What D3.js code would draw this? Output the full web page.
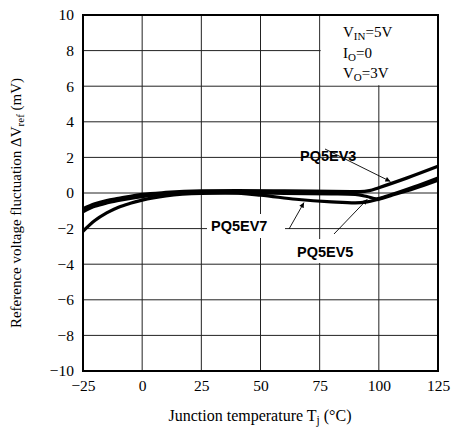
<!DOCTYPE html>
<html><head><meta charset="utf-8">
<script src="https://cdn.jsdelivr.net/npm/d3@7"></script>
<style>body{margin:0;background:#fff}svg{display:block}</style>
</head><body><svg id="c" width="451" height="429"></svg>
<script>
const xTicks = [-25, 0, 25, 50, 75, 100, 125];
const yTicks = [-10, -8, -6, -4, -2, 0, 2, 4, 6, 8, 10];
const seriesNames = ["PQ5EV3", "PQ5EV5", "PQ5EV7"];
const tempEV3 = [-25, -20, -15, -10, -5, 0, 10, 25, 40, 60, 80, 92, 96, 100, 112, 125];
const valEV3  = [-0.88, -0.6, -0.42, -0.3, -0.18, -0.08, 0.03, 0.12, 0.14, 0.12, 0.09, 0.08, 0.13, 0.3, 0.85, 1.5];
const tempEV5 = [-25, -20, -15, -10, -5, 0, 10, 25, 40, 60, 80, 90, 95, 99, 105, 115, 125];
const valEV5  = [-2.15, -1.55, -1.12, -0.8, -0.58, -0.4, -0.16, -0.02, 0.0, -0.02, -0.05, -0.08, -0.2, -0.33, -0.1, 0.35, 0.85];
const tempEV7 = [-25, -20, -15, -10, -5, 0, 10, 25, 35, 50, 65, 80, 90, 95, 99, 105, 115, 125];
const valEV7  = [-1.05, -0.75, -0.56, -0.42, -0.3, -0.2, -0.07, 0.03, 0.02, -0.12, -0.35, -0.5, -0.56, -0.5, -0.38, -0.15, 0.25, 0.72];

const svg = d3.select("#c");
const L = 83, R = 438, T = 15, B = 371;
const x = d3.scaleLinear().domain([-25, 125]).range([L, R]);
const y = d3.scaleLinear().domain([-10, 10]).range([B, T]);
const serif = "'Liberation Serif','Times New Roman',serif";
const sans = "'Liberation Sans',Arial,sans-serif";

// grid
svg.append("g").selectAll("line").data(xTicks.slice(1, -1)).join("line")
  .attr("x1", d => x(d)).attr("x2", d => x(d)).attr("y1", T).attr("y2", B)
  .attr("stroke", "#222").attr("stroke-width", 1);
svg.append("g").selectAll("line").data(yTicks.slice(1, -1)).join("line")
  .attr("x1", L).attr("x2", R).attr("y1", d => y(d)).attr("y2", d => y(d))
  .attr("stroke", "#222").attr("stroke-width", 1);

// legend box background
svg.append("rect").attr("x", x(75) + 1).attr("y", y(10)).attr("width", x(125) - x(75) - 1)
  .attr("height", y(6) - y(10) - 1).attr("fill", "#fff");

// label halos
const halos = [
  {x: 207, y: 214, w: 78, h: 24},
  {x: 293, y: 239, w: 75, h: 24}
];
svg.append("g").selectAll("rect").data(halos).join("rect")
  .attr("x", d => d.x).attr("y", d => d.y).attr("width", d => d.w).attr("height", d => d.h)
  .attr("fill", "#fff");

// axes (tick labels)
const fmt = d => d < 0 ? "\u2212" + Math.abs(d) : d;
const gx = svg.append("g").attr("transform", `translate(0,${B})`)
  .call(d3.axisBottom(x).tickValues(xTicks).tickSize(0).tickPadding(9).tickFormat(fmt));
gx.select(".domain").remove();
gx.selectAll("text").attr("font-family", serif).attr("font-size", 15.5).attr("fill", "#000");

const gy = svg.append("g").attr("transform", `translate(${L},0)`)
  .call(d3.axisLeft(y).tickValues(yTicks).tickSize(0).tickPadding(9).tickFormat(fmt));
gy.select(".domain").remove();
gy.selectAll("text").attr("font-family", serif).attr("font-size", 15.5).attr("fill", "#000");

// curves
const line = d3.line().x(d => x(d[0])).y(d => y(d[1])).curve(d3.curveMonotoneX);
const series = [
  {name: seriesNames[0], pts: d3.zip(tempEV3, valEV3)},
  {name: seriesNames[1], pts: d3.zip(tempEV5, valEV5)},
  {name: seriesNames[2], pts: d3.zip(tempEV7, valEV7)}
];
svg.append("g").selectAll("path").data(series).join("path")
  .attr("d", d => line(d.pts)).attr("fill", "none").attr("stroke", "#000")
  .attr("stroke-width", 3.2).attr("stroke-linejoin", "round");

// frame
svg.append("rect").attr("x", L).attr("y", T).attr("width", R - L).attr("height", B - T)
  .attr("fill", "none").attr("stroke", "#000").attr("stroke-width", 2);

// series labels
const labels = [
  {t: seriesNames[0], x: 300, y: 161},
  {t: seriesNames[2], x: 211, y: 231},
  {t: seriesNames[1], x: 297, y: 257}
];
svg.append("g").selectAll("text").data(labels).join("text")
  .attr("x", d => d.x).attr("y", d => d.y).text(d => d.t)
  .attr("font-family", sans).attr("font-weight", "bold").attr("font-size", 14.5).attr("fill", "#000");

// arrows pointing to curves
function valAt(ts, vs, t) {
  const i = d3.bisectLeft(ts, t);
  const t0 = ts[i - 1], t1 = ts[i];
  return vs[i - 1] + (vs[i] - vs[i - 1]) * (t - t0) / (t1 - t0);
}
const arrows = [
  {x1: 325, y1: 149, t: 106, v: valAt(tempEV3, valEV3, 106)},
  {x1: 289, y1: 229, t: 69, v: valAt(tempEV7, valEV7, 69)},
  {x1: 334, y1: 234, t: 96, v: valAt(tempEV5, valEV5, 96)}
];
arrows.forEach(a => {
  const ex = x(a.t), ey = y(a.v);
  const dx = ex - a.x1, dy = ey - a.y1, len = Math.hypot(dx, dy);
  a.x2 = ex - dx / len * 3;
  a.y2 = ey - dy / len * 3;
});
const defs = svg.append("defs");
defs.append("marker").attr("id", "ah").attr("viewBox", "0 0 10 10").attr("refX", 10).attr("refY", 5)
  .attr("markerWidth", 7).attr("markerHeight", 5).attr("orient", "auto").attr("markerUnits", "userSpaceOnUse")
  .append("path").attr("d", "M0,0L10,5L0,10z").attr("fill", "#000");
svg.append("g").selectAll("line").data(arrows).join("line")
  .attr("x1", d => d.x1).attr("y1", d => d.y1).attr("x2", d => d.x2).attr("y2", d => d.y2)
  .attr("stroke", "#000").attr("stroke-width", 0.9).attr("marker-end", "url(#ah)");

// conditions text
const cond = svg.append("g").attr("font-family", serif).attr("font-size", 15).attr("fill", "#000");
[["V", "IN", "=5V", 37], ["I", "O", "=0", 58], ["V", "O", "=3V", 78]].forEach(r => {
  const t = cond.append("text").attr("x", 343).attr("y", r[3]);
  t.append("tspan").text(r[0]);
  t.append("tspan").text(r[1]).attr("font-size", 11).attr("dy", 3);
  t.append("tspan").text(r[2]).attr("dy", -3);
});

// axis titles
const xt = svg.append("text").attr("x", 260).attr("y", 421).attr("text-anchor", "middle")
  .attr("font-family", serif).attr("font-size", 16).attr("fill", "#000");
xt.append("tspan").text("Junction temperature T");
xt.append("tspan").text("j").attr("font-size", 11.5).attr("dy", 2.5);
xt.append("tspan").text(" (\u00B0C)").attr("dy", -2.5);

const yt = svg.append("text").attr("transform", "translate(21,203) rotate(-90)").attr("text-anchor", "middle")
  .attr("font-family", serif).attr("font-size", 15).attr("fill", "#000");
yt.append("tspan").text("Reference voltage fluctuation \u0394V");
yt.append("tspan").text("ref").attr("font-size", 11).attr("dy", 3);
yt.append("tspan").text(" (mV)").attr("dy", -3);
</script></body></html>
